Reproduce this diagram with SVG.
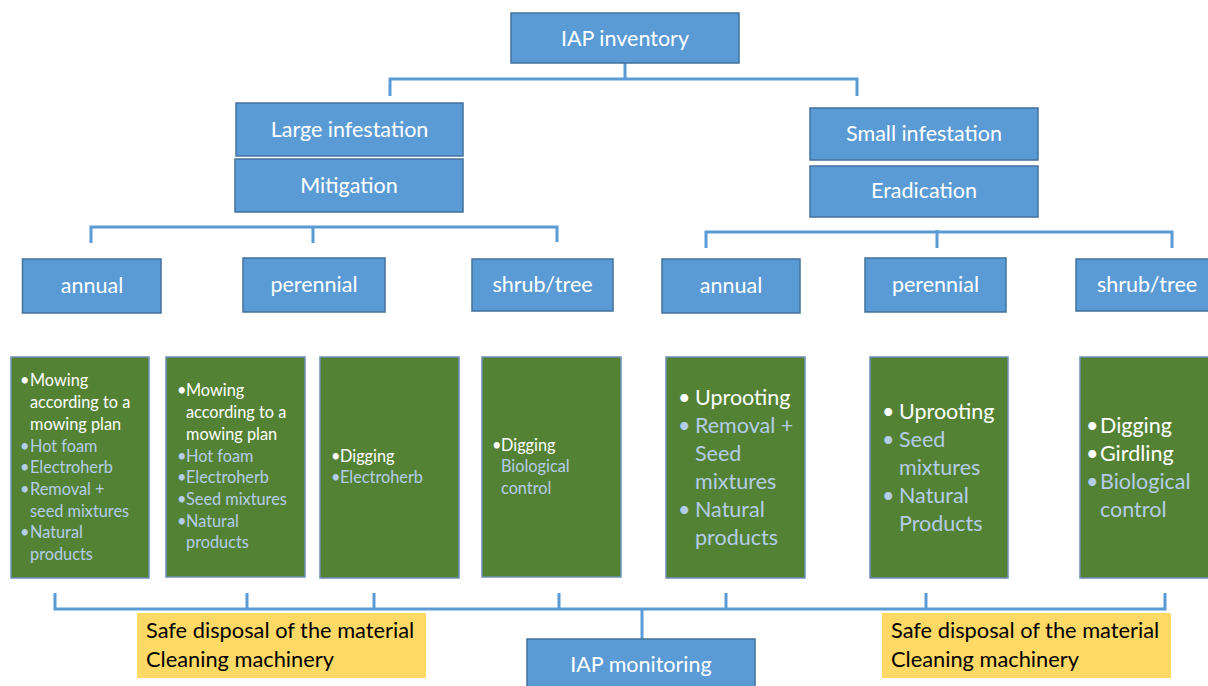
<svg xmlns="http://www.w3.org/2000/svg" width="1208" height="686" viewBox="0 0 1208 686">
<style>
.b{fill:#5B9BD5;stroke:#41719C;stroke-width:1.5}
.g{fill:#548235;stroke:#6F8FB8;stroke-width:1.5}
.y{fill:#FFD966}
.hl{font-family:Lato,"Open Sans",sans-serif;font-size:21.5px;fill:#fff;text-anchor:middle}
.s{font-family:Lato,"Open Sans",sans-serif;font-size:16.3px}
.l{font-family:Lato,"Open Sans",sans-serif;font-size:21.5px}
.w{fill:#fff}
.lb{fill:#B4CDE8}
.yt{font-family:Lato,"Open Sans",sans-serif;font-size:21.8px;fill:#000}
.c{fill:none;stroke:#5B9BD5;stroke-width:3}
</style>
<g id="connectors">
<path class="c" d="M625,63 V79 M390,96 V79 H857 V96"/>
<path class="c" d="M91,243 V227 H557 V242 M313,227 V243"/>
<path class="c" d="M706,248 V232 H1172 V248 M937,230 V248"/>
<path class="c" d="M55,593 V609 H1165 V593 M247,593 V609 M374,593 V609 M559,593 V609 M726,593 V609 M926,593 V609 M642,609 V639"/>
</g>
<g id="iap-inventory"><rect class="b" x="511" y="13" width="228" height="50"/><text class="hl" x="625" y="46">IAP inventory</text></g>
<g id="large-infestation"><rect class="b" x="236" y="103" width="227" height="53"/><text class="hl" x="349.5" y="137">Large infestation</text></g>
<g id="mitigation"><rect class="b" x="235" y="159" width="228" height="53"/><text class="hl" x="349" y="193">Mitigation</text></g>
<g id="small-infestation"><rect class="b" x="810" y="108" width="228" height="52"/><text class="hl" x="924" y="141">Small infestation</text></g>
<g id="eradication"><rect class="b" x="810" y="166" width="228" height="51"/><text class="hl" x="924" y="198">Eradication</text></g>
<g id="l-annual"><rect class="b" x="22.5" y="259" width="138.5" height="54"/><text class="hl" x="92" y="293">annual</text></g>
<g id="l-perennial"><rect class="b" x="243" y="258" width="142" height="54"/><text class="hl" x="314" y="292">perennial</text></g>
<g id="l-shrub"><rect class="b" x="472" y="259" width="141" height="52"/><text class="hl" x="542.5" y="292">shrub/tree</text></g>
<g id="s-annual"><rect class="b" x="662" y="259" width="138" height="54"/><text class="hl" x="731" y="293">annual</text></g>
<g id="s-perennial"><rect class="b" x="865" y="258" width="141" height="54"/><text class="hl" x="935.5" y="292">perennial</text></g>
<g id="s-shrub"><rect class="b" x="1076" y="259" width="134" height="52"/><text class="hl" x="1147" y="292">shrub/tree</text></g>
<g id="box1"><rect class="g" x="11" y="357" width="138" height="221"/>
<text class="s"><tspan class="w" x="20" y="386">•</tspan><tspan class="w" x="30" y="386">Mowing</tspan><tspan class="w" x="30" y="408">according to a</tspan><tspan class="w" x="30" y="430">mowing plan</tspan><tspan class="lb" x="20" y="452">•</tspan><tspan class="lb" x="30" y="452">Hot foam</tspan><tspan class="lb" x="20" y="473">•</tspan><tspan class="lb" x="30" y="473">Electroherb</tspan><tspan class="lb" x="20" y="495">•</tspan><tspan class="lb" x="30" y="495">Removal +</tspan><tspan class="lb" x="30" y="517">seed mixtures</tspan><tspan class="lb" x="20" y="538">•</tspan><tspan class="lb" x="30" y="538">Natural</tspan><tspan class="lb" x="30" y="560">products</tspan></text></g>
<g id="box2"><rect class="g" x="166" y="357" width="139" height="220"/>
<text class="s"><tspan class="w" x="177" y="396">•</tspan><tspan class="w" x="186" y="396">Mowing</tspan><tspan class="w" x="186" y="418">according to a</tspan><tspan class="w" x="186" y="440">mowing plan</tspan><tspan class="lb" x="177" y="462">•</tspan><tspan class="lb" x="186" y="462">Hot foam</tspan><tspan class="lb" x="177" y="483">•</tspan><tspan class="lb" x="186" y="483">Electroherb</tspan><tspan class="lb" x="177" y="505">•</tspan><tspan class="lb" x="186" y="505">Seed mixtures</tspan><tspan class="lb" x="177" y="527">•</tspan><tspan class="lb" x="186" y="527">Natural</tspan><tspan class="lb" x="186" y="548">products</tspan></text></g>
<g id="box3"><rect class="g" x="320" y="357" width="139" height="221"/>
<text class="s"><tspan class="w" x="331" y="462">•</tspan><tspan class="w" x="340" y="462">Digging</tspan><tspan class="lb" x="331" y="483">•</tspan><tspan class="lb" x="340" y="483">Electroherb</tspan></text></g>
<g id="box4"><rect class="g" x="482" y="357" width="139" height="220"/>
<text class="s"><tspan class="w" x="492" y="451">•</tspan><tspan class="w" x="501" y="451">Digging</tspan><tspan class="lb" x="501" y="472">Biological</tspan><tspan class="lb" x="501" y="494">control</tspan></text></g>
<g id="box5"><rect class="g" x="666" y="357" width="139" height="221"/>
<text class="l"><tspan class="w" x="678" y="405">•</tspan><tspan class="w" x="695" y="405">Uprooting</tspan><tspan class="lb" x="678" y="433">•</tspan><tspan class="lb" x="695" y="433">Removal +</tspan><tspan class="lb" x="695" y="461">Seed</tspan><tspan class="lb" x="695" y="489">mixtures</tspan><tspan class="lb" x="678" y="517">•</tspan><tspan class="lb" x="695" y="517">Natural</tspan><tspan class="lb" x="695" y="545">products</tspan></text></g>
<g id="box6"><rect class="g" x="870" y="357" width="138" height="221"/>
<text class="l"><tspan class="w" x="882" y="419">•</tspan><tspan class="w" x="899" y="419">Uprooting</tspan><tspan class="lb" x="882" y="447">•</tspan><tspan class="lb" x="899" y="447">Seed</tspan><tspan class="lb" x="899" y="475">mixtures</tspan><tspan class="lb" x="882" y="503">•</tspan><tspan class="lb" x="899" y="503">Natural</tspan><tspan class="lb" x="899" y="531">Products</tspan></text></g>
<g id="box7"><rect class="g" x="1080" y="357" width="130" height="221"/>
<text class="l"><tspan class="w" x="1086" y="433">•</tspan><tspan class="w" x="1100" y="433">Digging</tspan><tspan class="w" x="1086" y="461">•</tspan><tspan class="w" x="1100" y="461">Girdling</tspan><tspan class="lb" x="1086" y="489">•</tspan><tspan class="lb" x="1100" y="489">Biological</tspan><tspan class="lb" x="1100" y="517">control</tspan></text></g>
<g id="disposal-left"><rect class="y" x="137" y="613" width="289" height="65"/>
<text class="yt"><tspan x="146" y="638">Safe disposal of the material</tspan><tspan x="146" y="667">Cleaning machinery</tspan></text></g>
<g id="disposal-right"><rect class="y" x="882" y="613" width="289" height="65"/>
<text class="yt"><tspan x="891" y="638">Safe disposal of the material</tspan><tspan x="891" y="667">Cleaning machinery</tspan></text></g>
<g id="iap-monitoring"><rect class="b" x="527" y="639" width="228" height="52"/><text class="hl" x="641" y="672">IAP monitoring</text></g>
</svg>
